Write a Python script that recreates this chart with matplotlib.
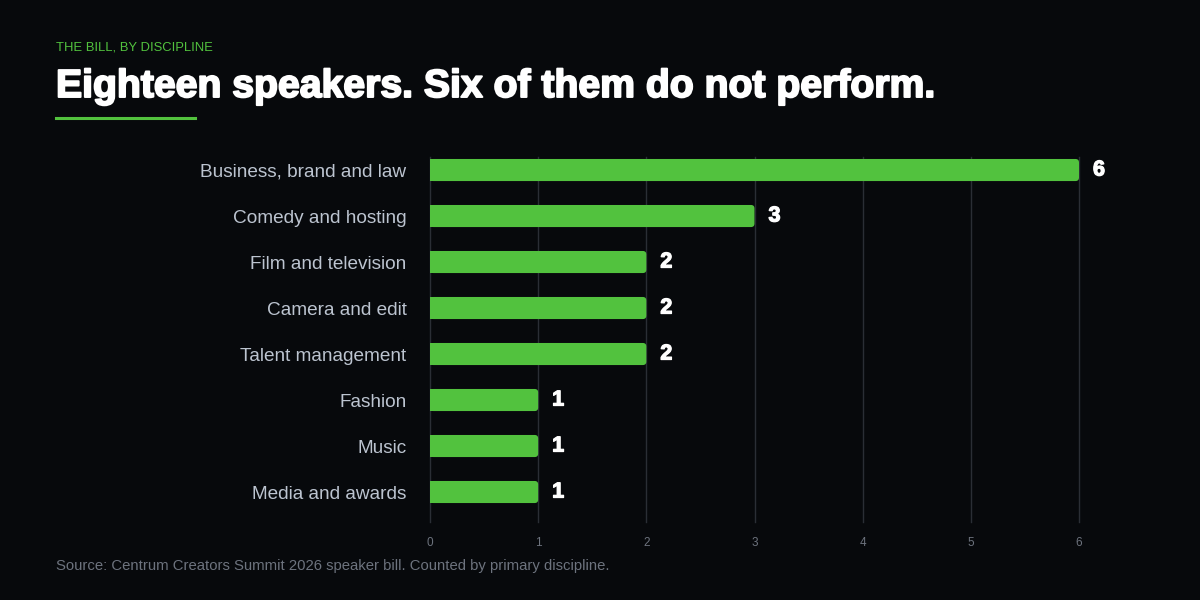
import numpy as np
import matplotlib
matplotlib.use('Agg')
import matplotlib.pyplot as plt
import matplotlib.patches as patches
import matplotlib.patheffects as pe
from matplotlib.lines import Line2D

# data
categories = ['Business, brand and law', 'Comedy and hosting', 'Film and television',
              'Camera and edit', 'Talent management', 'Fashion', 'Music', 'Media and awards']
speakers = [6, 3, 2, 2, 2, 1, 1, 1]
x_ticks = [0, 1, 2, 3, 4, 5, 6]

BG = '#07090c'
GREEN = '#52c23e'
GRID = '#2a2e35'
LABEL = '#bcc4d0'
MUTED = '#6d737e'

plt.rcParams['font.family'] = ['Liberation Sans', 'DejaVu Sans']

fig = plt.figure(figsize=(12, 6), dpi=100, facecolor=BG)
ax = fig.add_axes([430/1200, 78/600, 649/1200, 365/600])
ax.set_facecolor(BG)

y = np.arange(len(categories))
bars = ax.barh(y, speakers, height=0.48, color=GREEN, zorder=3)

ax.set_xlim(0, 6)
ax.set_ylim(7.652, -0.283)

# rounded right ends: px per data unit
px_x = 649 / 6.0
px_y = 46.0
r = 3.5 / px_x
bold = [pe.withStroke(linewidth=0.9, foreground='white')]
for b in bars:
    bx, by, bw, bh = b.get_x(), b.get_y(), b.get_width(), b.get_height()
    fb = patches.FancyBboxPatch((bx, by), bw, bh,
                                boxstyle='round,pad=0,rounding_size=%f' % r,
                                mutation_aspect=px_x / px_y,
                                facecolor=GREEN, edgecolor='none', zorder=3)
    ax.add_patch(fb)
    b.set_width(bw / 2)
    ax.text(bx + bw + 14 / px_x, by + bh / 2, str(int(bw)), color='white',
            fontsize=15.5, fontweight='bold', va='center', ha='left', zorder=4,
            path_effects=bold, clip_on=False)

for t in x_ticks:
    ax.axvline(t, color=GRID, linewidth=1, zorder=1, clip_on=False)

ax.set_xticks(x_ticks)
ax.set_xticklabels([str(t) for t in x_ticks], color=MUTED, fontsize=8.5)
ax.set_yticks(y)
ax.set_yticklabels(categories, color=LABEL, fontsize=13.7)
ax.tick_params(axis='x', length=0, pad=11)
ax.tick_params(axis='y', length=0, pad=17)
for s in ax.spines.values():
    s.set_visible(False)

fig.text(56/1200, 1 - 47/600, 'THE BILL, BY DISCIPLINE', color=GREEN, fontsize=9.4,
         va='center', ha='left')
fig.text(56/1200, 1 - 97/600, 'Eighteen speakers. Six of them do not perform.',
         color='white', fontsize=28.2, fontweight='bold', va='baseline', ha='left',
         path_effects=[pe.withStroke(linewidth=1.4, foreground='white')])
fig.add_artist(Line2D([56/1200, 195/1200], [1 - 118/600, 1 - 118/600],
                      color=GREEN, linewidth=2.2, transform=fig.transFigure))
fig.text(56/1200, 1 - 566/600,
         'Source: Centrum Creators Summit 2026 speaker bill. Counted by primary discipline.',
         color=MUTED, fontsize=10.7, va='center', ha='left')

fig.savefig('out.png', dpi=100, facecolor=BG)
